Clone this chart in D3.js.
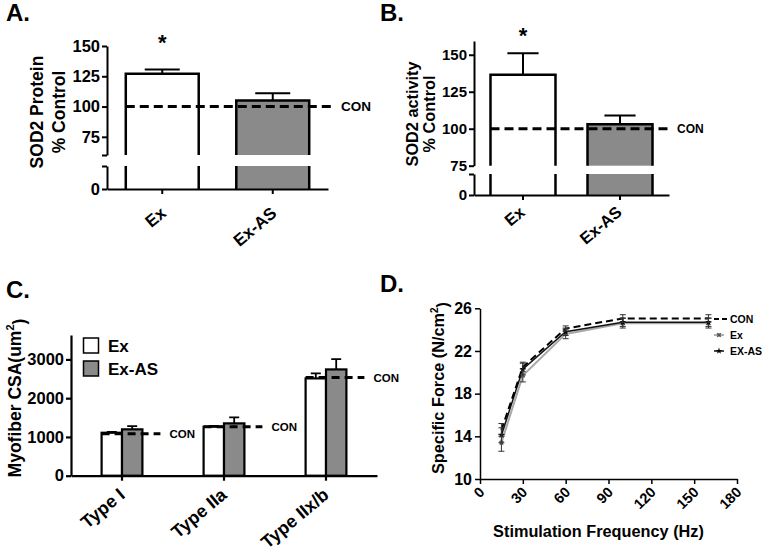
<!DOCTYPE html>
<html>
<head>
<meta charset="utf-8">
<script src="https://cdn.jsdelivr.net/npm/d3@7"></script>
<style>
  html, body { margin: 0; padding: 0; background: #fff; }
  svg { display: block; }
  text { font-family: "Liberation Sans", Arial, sans-serif; font-weight: bold; fill: #000; }
</style>
</head>
<body>
<script>
// ---------------- DATA ----------------
const catsAB = ["Ex", "Ex-AS"];
const sodProtein = [127, 105];
const sodProteinErr = [3.5, 6];
const sodActivity = [136.5, 103];
const sodActivityErr = [14.5, 6];
const conLevel = 100;
const sodTicks = [75, 100, 125, 150];

const fiberTypes = ["Type I", "Type IIa", "Type IIx/b"];
const groupsC = ["Ex", "Ex-AS"];
const csaEx = [1108, 1263, 2510];
const csaExErr = [20, 20, 130];
const csaExAS = [1196, 1350, 2742];
const csaExASErr = [85, 155, 266];
const csaCon = [1085, 1263, 2536];
const csaTicks = [0, 1000, 2000, 3000];

const freqHz = [15, 30, 60, 100, 160];
const forceCon = [14.6, 20.5, 24.1, 25.05, 25.05];
const forceConErr = [0.6, 0.45, 0.25, 0.35, 0.35];
const forceEx = [13.4, 19.7, 23.6, 24.6, 24.6];
const forceExErr = [0.8, 0.6, 0.45, 0.45, 0.45];
const forceExAS = [14.1, 20.3, 23.8, 24.7, 24.7];
const forceExASErr = [0.7, 0.55, 0.35, 0.4, 0.4];
const forceTicks = [10, 14, 18, 22, 26];
const freqTicks = [0, 30, 60, 90, 120, 150, 180];

const GRAY = "#8a8a8a";

const svg = d3.select("body").append("svg").attr("width", 762).attr("height", 551);
svg.append("rect").attr("width", 762).attr("height", 551).attr("fill", "#fff");

function styleAxis(g, sw, fs) {
  g.selectAll("path.domain").attr("stroke", "#000").attr("stroke-width", sw);
  g.selectAll(".tick line").attr("stroke", "#000").attr("stroke-width", sw);
  g.selectAll(".tick text").style("font-size", fs + "px").style("font-family", "Liberation Sans, Arial, sans-serif").style("font-weight", "bold").attr("fill", "#000");
}

// ---------------- Broken-axis bar panels (A, B) ----------------
function brokenPanel(cfg) {
  const g = svg.append("g");
  const x = d3.scaleBand().domain(catsAB).range(cfg.xRange).paddingInner(cfg.pi).paddingOuter(cfg.po);
  const yUp = d3.scaleLinear().domain(cfg.upDomain).range(cfg.upRange);
  const yLow = d3.scaleLinear().domain([0, 15]).range(cfg.lowRange);
  const axX = cfg.xRange[0];

  catsAB.forEach((c, i) => {
    const x0 = x(c), w = x.bandwidth(), v = cfg.values[i];
    const fill = i === 0 ? "#fff" : GRAY;
    g.append("rect").attr("x", x0).attr("y", yUp(v)).attr("width", w).attr("height", yUp(cfg.upDomain[0]) - yUp(v)).attr("fill", fill);
    g.append("rect").attr("x", x0).attr("y", yLow(15)).attr("width", w).attr("height", yLow(0) - yLow(15)).attr("fill", fill);
    g.append("path").attr("d", `M${x0},${yUp(cfg.upDomain[0])}V${yUp(v)}H${x0 + w}V${yUp(cfg.upDomain[0])}`)
      .attr("fill", "none").attr("stroke", "#000").attr("stroke-width", 2.5);
    g.append("path").attr("d", `M${x0},${yLow(0)}V${yLow(15)}M${x0 + w},${yLow(15)}V${yLow(0)}`)
      .attr("fill", "none").attr("stroke", "#000").attr("stroke-width", 2.5);
    const cx = x0 + w / 2, e = cfg.errs[i], cw = w * 0.24;
    g.append("path").attr("d", `M${cx},${yUp(v)}V${yUp(v + e)}M${cx - cw},${yUp(v + e)}H${cx + cw}`)
      .attr("fill", "none").attr("stroke", "#000").attr("stroke-width", 2);
  });

  g.append("line").attr("x1", x(catsAB[0])).attr("x2", cfg.xRange[1] + cfg.conExt)
    .attr("y1", yUp(conLevel)).attr("y2", yUp(conLevel))
    .attr("stroke", "#000").attr("stroke-width", 3).attr("stroke-dasharray", "9,5");
  g.append("text").attr("x", cfg.xRange[1] + cfg.conExt + 8).attr("y", yUp(conLevel)).attr("dy", "0.36em")
    .style("font-size", cfg.conFs + "px").text("CON");

  const upTicks = cfg.upDomain[0] < sodTicks[0] ? [cfg.upDomain[0]].concat(sodTicks) : sodTicks;
  const ga = g.append("g").attr("transform", `translate(${axX},0)`)
    .call(d3.axisLeft(yUp).tickValues(upTicks).tickFormat(d => sodTicks.includes(d) ? d : "").tickSize(5).tickSizeOuter(0).tickPadding(2));
  styleAxis(ga, 2, cfg.tickFs);
  const gl = g.append("g").attr("transform", `translate(${axX},0)`)
    .call(d3.axisLeft(yLow).tickValues([0, 15]).tickFormat(d => d === 0 ? "0" : "").tickSize(5).tickSizeOuter(0).tickPadding(2));
  styleAxis(gl, 2, cfg.tickFs);
  const gx = g.append("g").attr("transform", `translate(0,${yLow(0)})`)
    .call(d3.axisBottom(x).tickSize(5).tickSizeOuter(0));
  styleAxis(gx, 2, cfg.xFs);
  gx.selectAll(".tick text").attr("x", 0).attr("y", 0).attr("dy", 0)
    .attr("text-anchor", "end").attr("transform", `translate(${cfg.lblDx},${cfg.lblDy}) rotate(-40)`);

  g.append("text").attr("x", x.bandwidth() / 2 + x(catsAB[0])).attr("y", cfg.starY).attr("text-anchor", "middle")
    .style("font-size", "22px").text("*");

  g.append("text").attr("transform", `translate(${cfg.t1x},${cfg.tY}) rotate(-90)`).attr("text-anchor", "middle")
    .style("font-size", cfg.titleFs + "px").text(cfg.title1);
  g.append("text").attr("transform", `translate(${cfg.t2x},${cfg.tY}) rotate(-90)`).attr("text-anchor", "middle")
    .style("font-size", cfg.titleFs + "px").text("% Control");
  g.append("text").attr("x", cfg.labX).attr("y", cfg.labY).style("font-size", "24px").text(cfg.label);
}

brokenPanel({
  values: sodProtein, errs: sodProteinErr,
  xRange: [107, 328], pi: 0.34, po: 0.17,
  upDomain: [60, 150], upRange: [155, 46], lowRange: [189, 166],
  conExt: 5, conFs: 13.5, tickFs: 16.5, xFs: 17, lblDx: 5, lblDy: 26,
  starY: 50, title1: "SOD2 Protein", t1x: 43, t2x: 65, tY: 112, titleFs: 17.5,
  label: "A.", labX: 6, labY: 21
});

brokenPanel({
  values: sodActivity, errs: sodActivityErr,
  xRange: [474, 669], pi: 0.33, po: 0.17,
  upDomain: [75, 159.3], upRange: [165.7, 41], lowRange: [195, 174],
  conExt: 0, conFs: 12, tickFs: 15, xFs: 16.5, lblDx: 3, lblDy: 19,
  starY: 43, title1: "SOD2 activity", t1x: 418, t2x: 435, tY: 114, titleFs: 16.3,
  label: "B.", labX: 380, labY: 21
});

// ---------------- Panel C ----------------
(function () {
  const g = svg.append("g");
  const x = d3.scaleBand().domain(fiberTypes).range([71, 377]).paddingInner(0.6).paddingOuter(0.3);
  const x1 = d3.scaleBand().domain(groupsC).range([0, x.bandwidth()]);
  const y = d3.scaleLinear().domain([0, 3630]).range([475.7, 335]);
  const series = [csaEx, csaExAS], errs = [csaExErr, csaExASErr], fills = ["#fff", GRAY];

  fiberTypes.forEach((t, i) => {
    groupsC.forEach((s, j) => {
      const x0 = x(t) + x1(s), w = x1.bandwidth(), v = series[j][i];
      const cx = x0 + w / 2, e = errs[j][i];
      g.append("path").attr("d", `M${cx},${y(v)}V${y(v + e)}M${cx - 5},${y(v + e)}H${cx + 5}`)
        .attr("fill", "none").attr("stroke", "#000").attr("stroke-width", 1.8);
      g.append("rect").attr("x", x0).attr("y", y(v)).attr("width", w).attr("height", y(0) - y(v))
        .attr("fill", fills[j]).attr("stroke", "#000").attr("stroke-width", 2.2);
    });
    const xs = x(t), xe = x(t) + x.bandwidth() + 18;
    g.append("line").attr("x1", xs).attr("x2", xe).attr("y1", y(csaCon[i])).attr("y2", y(csaCon[i]))
      .attr("stroke", "#000").attr("stroke-width", 3).attr("stroke-dasharray", "8,5");
    g.append("text").attr("x", xe + 9).attr("y", y(csaCon[i])).attr("dy", "0.36em").style("font-size", "11.5px").text("CON");
  });

  const gy = g.append("g").attr("transform", "translate(71,0)")
    .call(d3.axisLeft(y).tickValues(csaTicks).tickFormat(d3.format("d")).tickSize(5).tickSizeOuter(0).tickPadding(2));
  styleAxis(gy, 2.2, 16.5);
  const gx = g.append("g").attr("transform", `translate(0,${y(0)})`)
    .call(d3.axisBottom(x).tickSize(5).tickSizeOuter(0));
  styleAxis(gx, 2.2, 18);
  gx.selectAll(".tick text").attr("x", 0).attr("y", 0).attr("dy", 0)
    .attr("text-anchor", "end").attr("transform", "translate(4,21) rotate(-40)");

  groupsC.forEach((s, j) => {
    const ly = 338 + j * 23;
    g.append("rect").attr("x", 83.5).attr("y", ly).attr("width", 15).attr("height", 15)
      .attr("fill", fills[j]).attr("stroke", "#000").attr("stroke-width", 1.5);
    g.append("text").attr("x", 108).attr("y", ly + 7.5).attr("dy", "0.36em").style("font-size", "17px").text(s);
  });

  const yt = g.append("text").attr("transform", "translate(21,398) rotate(-90)").attr("text-anchor", "middle")
    .style("font-size", "17.5px");
  yt.append("tspan").text("Myofiber CSA(um");
  yt.append("tspan").attr("dy", "-0.6em").style("font-size", "11px").text("2");
  yt.append("tspan").attr("dy", "0.6em").text(")");
  g.append("text").attr("x", 6).attr("y", 298).style("font-size", "24px").text("C.");
})();

// ---------------- Panel D ----------------
(function () {
  const g = svg.append("g");
  const x = d3.scaleLinear().domain([0, 180]).range([480, 737]);
  const y = d3.scaleLinear().domain([10, 26]).range([479, 308.3]);

  const sets = [
    { v: forceEx, e: forceExErr, color: "#a8a8a8", width: 2, dash: null, sym: "x" },
    { v: forceExAS, e: forceExASErr, color: "#111", width: 1.5, dash: null, sym: "star" },
    { v: forceCon, e: forceConErr, color: "#000", width: 2, dash: "7,4", sym: "dash" }
  ];
  const line = d3.line().x(d => x(d[0])).y(d => y(d[1]));

  sets.forEach(s => {
    const pts = freqHz.map((f, i) => [f, s.v[i]]);
    g.append("path").attr("d", line(pts)).attr("fill", "none").attr("stroke", s.color)
      .attr("stroke-width", s.width).attr("stroke-dasharray", s.dash);
  });
  sets.forEach(s => {
    freqHz.forEach((f, i) => {
      const cx = x(f), v = s.v[i], e = s.e[i];
      g.append("path").attr("d", `M${cx},${y(v - e)}V${y(v + e)}M${cx - 3},${y(v - e)}H${cx + 3}M${cx - 3},${y(v + e)}H${cx + 3}`)
        .attr("fill", "none").attr("stroke", "#333").attr("stroke-width", 1);
      if (s.sym === "x") {
        g.append("path").attr("d", d3.symbol(d3.symbolCross, 14)()).attr("transform", `translate(${cx},${y(v)}) rotate(45)`).attr("fill", "#555");
      } else if (s.sym === "star") {
        g.append("path").attr("d", d3.symbol(d3.symbolStar, 14)()).attr("transform", `translate(${cx},${y(v)})`).attr("fill", "#000");
      }
    });
  });

  const gy = g.append("g").attr("transform", "translate(480,0)")
    .call(d3.axisLeft(y).tickValues(forceTicks).tickSize(5).tickSizeOuter(0).tickPadding(3));
  styleAxis(gy, 1.5, 16);
  const gx = g.append("g").attr("transform", "translate(0,479)")
    .call(d3.axisBottom(x).tickValues(freqTicks).tickSize(5).tickSizeOuter(0));
  styleAxis(gx, 1.5, 14.5);
  gx.selectAll(".tick text").attr("x", 0).attr("y", 0).attr("dy", 0)
    .attr("text-anchor", "end").attr("transform", "translate(5,14) rotate(-45)");

  const lg = g.append("g");
  const legItems = [["CON", 319], ["Ex", 335], ["EX-AS", 351]];
  lg.append("line").attr("x1", 714).attr("x2", 727).attr("y1", 319).attr("y2", 319)
    .attr("stroke", "#000").attr("stroke-width", 2).attr("stroke-dasharray", "5,3");
  lg.append("line").attr("x1", 714).attr("x2", 724).attr("y1", 335).attr("y2", 335).attr("stroke", "#999").attr("stroke-width", 1.5);
  lg.append("path").attr("d", d3.symbol(d3.symbolCross, 14)()).attr("transform", "translate(719,335) rotate(45)").attr("fill", "#555");
  lg.append("line").attr("x1", 714).attr("x2", 724).attr("y1", 351).attr("y2", 351).attr("stroke", "#111").attr("stroke-width", 1.5);
  lg.append("path").attr("d", d3.symbol(d3.symbolStar, 14)()).attr("transform", "translate(719,351)").attr("fill", "#000");
  legItems.forEach(([t, ly]) => {
    lg.append("text").attr("x", 730).attr("y", ly).attr("dy", "0.36em").style("font-size", "10.5px").text(t);
  });

  const yt = g.append("text").attr("transform", "translate(444,388) rotate(-90)").attr("text-anchor", "middle")
    .style("font-size", "16.3px");
  yt.append("tspan").text("Specific Force (N/cm");
  yt.append("tspan").attr("dy", "-0.6em").style("font-size", "10px").text("2");
  yt.append("tspan").attr("dy", "0.6em").text(")");
  g.append("text").attr("x", 598.5).attr("y", 537).attr("text-anchor", "middle").style("font-size", "16.3px")
    .text("Stimulation Frequency (Hz)");
  g.append("text").attr("x", 380).attr("y", 292).style("font-size", "24px").text("D.");
})();
</script>
</body>
</html>
